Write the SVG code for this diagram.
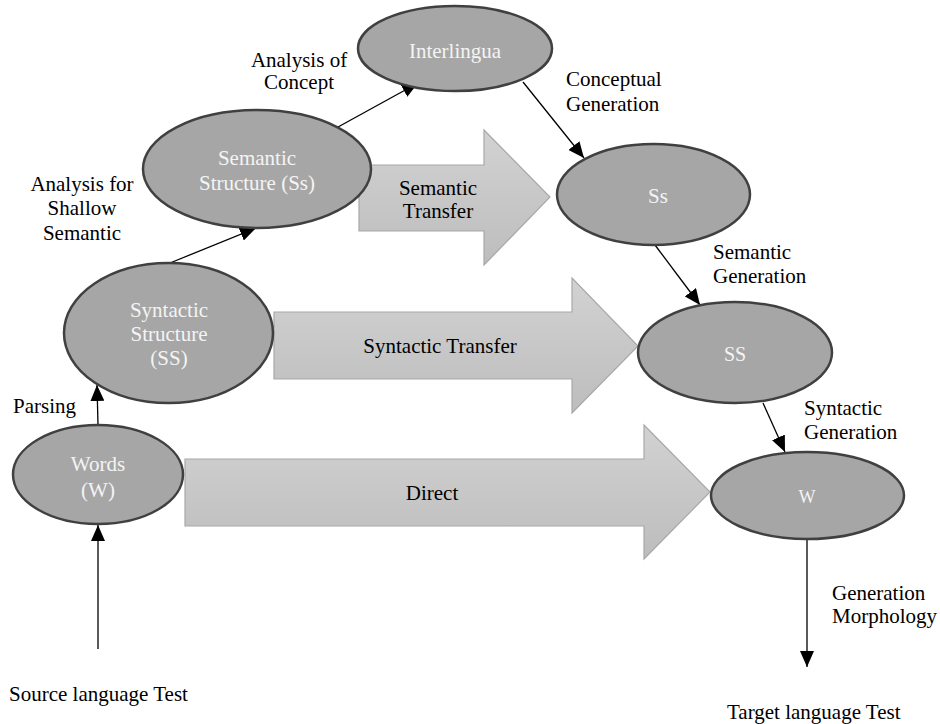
<svg xmlns="http://www.w3.org/2000/svg" width="940" height="724" viewBox="0 0 940 724">
<style>
.node ellipse{fill:#a6a6a6;stroke:#404040;stroke-width:2.5}
text{font-family:'Liberation Serif','Times New Roman','DejaVu Serif',serif;font-size:21px}
.nt{fill:#f4f4f4;text-anchor:middle}
.lb{fill:#000}
.c{text-anchor:middle}
.blk path{fill:url(#g);stroke:#a8a8a8;stroke-width:1.2}
.con line{stroke:#000;stroke-width:1.3;marker-end:url(#ah)}
</style>
<defs>
<linearGradient id="g" x1="0" y1="0" x2="0" y2="1">
<stop offset="0" stop-color="#d2d2d2"/>
<stop offset="1" stop-color="#bdbdbd"/>
</linearGradient>
<marker id="ah" markerUnits="userSpaceOnUse" markerWidth="16" markerHeight="14" refX="16" refY="7" orient="auto">
<path d="M0,0 L16,7 L0,14 z" fill="#000"/>
</marker>
</defs>
<rect width="940" height="724" fill="#fff"/>

<g id="transfer-arrows" class="blk">
<g id="semantic-transfer">
<path d="M359,165 H484 V130 L550,197 L484,265 V231 H359 Z"/>
<text class="lb c" x="438" y="195">Semantic</text>
<text class="lb c" x="438" y="218">Transfer</text>
</g>
<g id="syntactic-transfer">
<path d="M274,312 H572 V278 L638,346 L572,413 V379 H274 Z"/>
<text class="lb c" x="440" y="353">Syntactic Transfer</text>
</g>
<g id="direct">
<path d="M185,459 H644 V425 L710,492 L644,559 V526 H185 Z"/>
<text class="lb c" x="432" y="500">Direct</text>
</g>
</g>

<g id="connectors" class="con">
<line x1="98" y1="649" x2="98" y2="525"/>
<line x1="98" y1="425" x2="97" y2="385"/>
<line x1="170" y1="263" x2="256" y2="228"/>
<line x1="338" y1="127" x2="418" y2="83"/>
<line x1="523" y1="82" x2="584" y2="158"/>
<line x1="655" y1="245" x2="700" y2="305"/>
<line x1="763" y1="403" x2="785" y2="452"/>
<line x1="807" y1="539" x2="807" y2="667"/>
</g>

<g id="interlingua" class="node">
<ellipse cx="455" cy="48.5" rx="97" ry="42.5"/>
<text class="nt" x="455" y="58">Interlingua</text>
</g>
<g id="semantic-structure" class="node">
<ellipse cx="257" cy="169" rx="114" ry="59"/>
<text class="nt" x="257" y="165">Semantic</text>
<text class="nt" x="257" y="190">Structure (Ss)</text>
</g>
<g id="syntactic-structure" class="node">
<ellipse cx="168.5" cy="333" rx="104.5" ry="70"/>
<text class="nt" x="169" y="317">Syntactic</text>
<text class="nt" x="169" y="341">Structure</text>
<text class="nt" x="169" y="365">(SS)</text>
</g>
<g id="words" class="node">
<ellipse cx="98" cy="474.5" rx="85" ry="49.5"/>
<text class="nt" x="98" y="471">Words</text>
<text class="nt" x="98" y="497">(W)</text>
</g>
<g id="ss-target" class="node">
<ellipse cx="653.5" cy="194.5" rx="96.5" ry="50.5"/>
<text class="nt" x="658" y="203">Ss</text>
</g>
<g id="SS-target" class="node">
<ellipse cx="735" cy="352.5" rx="97" ry="50.5"/>
<text class="nt" x="735" y="361" style="font-size:20px">SS</text>
</g>
<g id="w-target" class="node">
<ellipse cx="807.5" cy="495.5" rx="96.5" ry="43.5"/>
<text class="nt" x="807" y="503" style="font-size:18px">W</text>
</g>

<g id="labels">
<text class="lb c" x="299" y="67">Analysis of</text>
<text class="lb c" x="299" y="89">Concept</text>
<text class="lb c" x="82" y="191">Analysis for</text>
<text class="lb c" x="82" y="215">Shallow</text>
<text class="lb c" x="82" y="240">Semantic</text>
<text class="lb" x="13" y="413">Parsing</text>
<text class="lb" x="566" y="86">Conceptual</text>
<text class="lb" x="566" y="111">Generation</text>
<text class="lb" x="713" y="259">Semantic</text>
<text class="lb" x="713" y="283">Generation</text>
<text class="lb" x="804" y="415">Syntactic</text>
<text class="lb" x="804" y="439">Generation</text>
<text class="lb" x="832" y="600">Generation</text>
<text class="lb" x="832" y="623">Morphology</text>
<text class="lb" x="9" y="701">Source language Test</text>
<text class="lb" x="727" y="719">Target language Test</text>
</g>
</svg>
